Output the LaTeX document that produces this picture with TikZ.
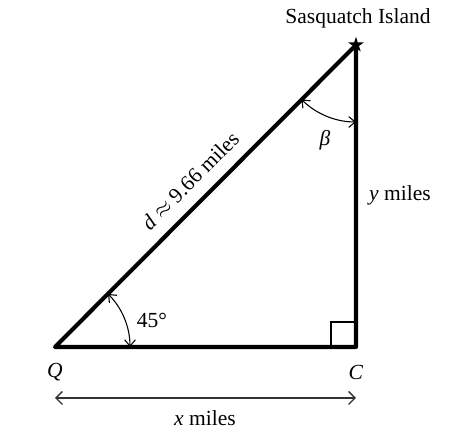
\documentclass[tikz,border=0pt]{standalone}
\usepackage{fontspec}
\setmainfont{Liberation Serif}
\usepackage{tikz}
\usetikzlibrary{shapes, arrows.meta, positioning, calc}

\begin{document}
\begin{tikzpicture}[x=0.465pt, y=-0.465pt,
  side/.style={line width=1.9pt, line join=round},
  anglearc/.style={line width=0.5pt, {Straight Barb[length=3pt,width=5pt]}-{Straight Barb[length=3pt,width=5pt]}},
  dimline/.style={draw=black!80, line width=0.6pt, {Straight Barb[length=3pt,width=6pt]}-{Straight Barb[length=3pt,width=6pt]}},
  lbl/.style={inner sep=0pt}]
  \useasboundingbox (0,0) rectangle (465,446);
  \coordinate (Q) at (55,347);
  \coordinate (C) at (356,347);
  \coordinate (S) at (356,45);
  \draw[side] (Q) -- (C) -- (S) -- cycle;
  \path (S) -- (Q) node[midway, above=3pt, sloped] (dlab) {\textit{d} $\approx$ 9.66 miles};
  \draw[line width=0.7pt] ($(C)+(-25,0)$) |- ($(C)+(0,-25)$);
  \node[star, star points=5, star point ratio=2.6, fill, minimum size=7.5pt, inner sep=0pt] (star) at (S) {};
  % angle marks
  \draw[anglearc] ($(Q)+(75,0)$) arc[start angle=0, end angle=-45, radius=75];
  \draw[anglearc] ($(S)+(135:77)$) arc[start angle=135, end angle=90, radius=77];
  % labels
  \node[lbl] (island) at (358,18) {Sasquatch Island};
  \node[lbl] (alpha) at (152,320) {45°};
  \node[lbl] (beta) at (325,140) {\textit{β}};
  \node[lbl] (qlab) at (55,372) {\textit{Q}};
  \node[lbl] (clab) at (356,372) {\textit{C}};
  \node[lbl] (ylab) at (400,195) {\textit{y} miles};
  \coordinate (xL) at (55,398);
  \coordinate (xR) at (356,398);
  \draw[dimline] (xL) -- (xR);
  \node[lbl] (xlab) at (205,418) {\textit{x} miles};
\end{tikzpicture}
\end{document}
